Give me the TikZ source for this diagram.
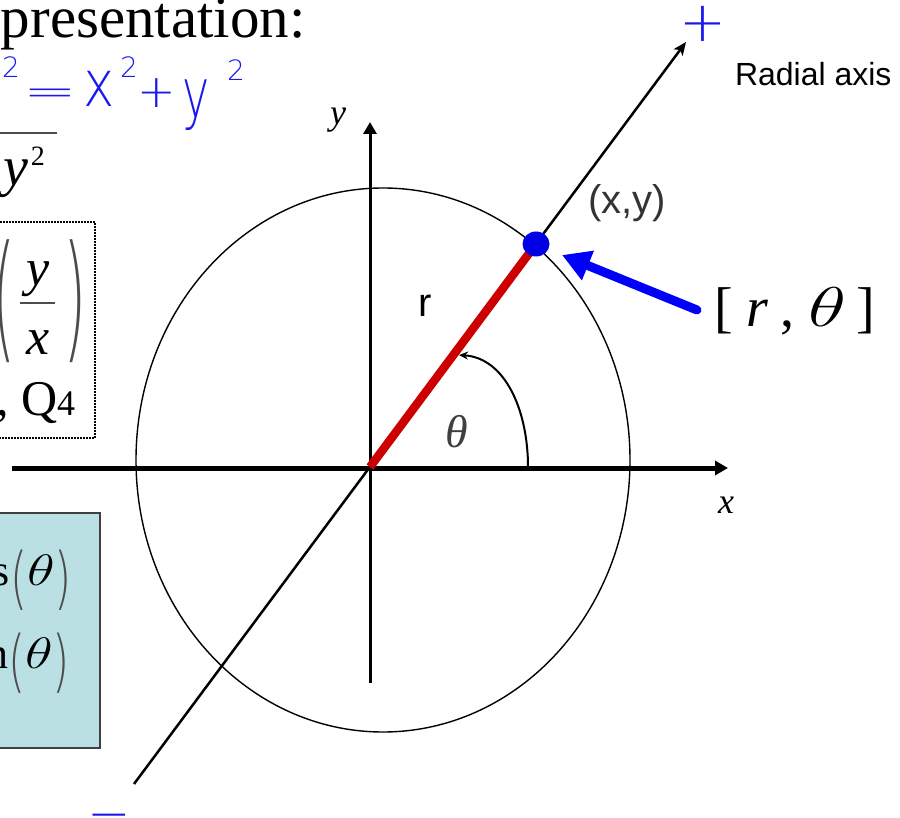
\RequirePackage{fix-cm}
\documentclass[tikz,border=0pt]{standalone}
\usepackage{graphicx}
\usepackage{fontspec}
\setmainfont{Liberation Serif}
\newfontfamily\arial{Liberation Sans}
\IfFontExistsTF{DejaVu Sans ExtraLight}{\newfontfamily\handfont{DejaVu Sans ExtraLight}}{\newfontfamily\handfont{Liberation Sans}}
\usetikzlibrary{arrows.meta,shapes.geometric}
\definecolor{boxcyan}{RGB}{186,224,228}
\definecolor{penblue}{RGB}{25,25,235}
\definecolor{dotblue}{RGB}{0,0,230}
\definecolor{arrowblue}{RGB}{0,0,250}
\definecolor{rred}{RGB}{204,0,0}
\newcommand\fs[1]{\fontsize{#1}{#1}\selectfont}
\newcommand\wth[1]{\scalebox{#1}[1]{$\theta$}}
% thin stretched parenthesis: #1 char, #2 y-scale, #3 raise
\newcommand\tpar[3]{\raisebox{#3}{\scalebox{1}[#2]{\handfont\color{black!70}#1}}}
\begin{document}
\begin{tikzpicture}[x=1pt,y=-1pt,
  txt/.style={inner sep=0pt, outer sep=0pt},
  hand/.style={txt, text=penblue, anchor=base},
  gline/.style={line width=2.2pt, draw=black!70},
  dotbox/.style={line width=1.5pt, dash pattern=on 1.5pt off 1.5pt},
  cyanbox/.style={fill=boxcyan, draw=black!75, line width=2pt},
 ]
\useasboundingbox (0,0) rectangle (900,818);
\clip (0,0) rectangle (900,818);

% ---------- left fragments ----------
\node[txt, anchor=base west, font=\fs{59}] (title) at (1,38) {presentation:};

\coordinate (sqA) at (-2,133); \coordinate (sqB) at (57,133);
\draw[gline] (sqA) -- (sqB);
\node[txt, anchor=base west, font=\fs{56}] (ysq) at (4,186) {\itshape y\hspace{2pt}\raisebox{20pt}{\fs{28}\upshape 2}};

\coordinate (dbA) at (-10,222); \coordinate (dbB) at (95,438);
\draw[dotbox] (dbA) rectangle (dbB);
\node[txt, anchor=base west, font=\fs{60}] (lpA) at (-8,345) {\tpar{(}{2.3}{0pt}};
\node[txt, anchor=base, font=\fs{52}\itshape] (fy) at (38,286) {y};
\coordinate (fbA) at (20,303); \coordinate (fbB) at (55,303);
\draw[gline, line width=2pt] (fbA) -- (fbB);
\node[txt, anchor=base, font=\fs{52}\itshape] (fx) at (38,355) {x};
\node[txt, anchor=base west, font=\fs{60}] (rpA) at (63,345) {\tpar{)}{2.3}{0pt}};
\node[txt, anchor=base west, font=\fs{50}] (q4) at (-4,415) {, Q{\fs{36}4}};

\coordinate (cbA) at (-10,513); \coordinate (cbB) at (100,748);
\draw[cyanbox] (cbA) rectangle (cbB);
\node[txt, anchor=base east, font=\fs{44}] (cosl) at (72,585)
  {s\tpar{(}{1.54}{-16pt}\wth{1.3}\tpar{)}{1.54}{-16pt}};
\node[txt, anchor=base east, font=\fs{44}] (sinl) at (70,668)
  {n\tpar{(}{1.54}{-16pt}\wth{1.3}\tpar{)}{1.54}{-16pt}};

% ---------- handwriting ----------
\node[hand, font=\handfont\fs{28}] (h1) at (11,78) {2};
\node[hand, font=\handfont\fs{40}] (h2) at (50,106) {\scalebox{1.6}[1]{=}};
\node[hand, font=\handfont\fs{46}] (h3) at (99,107) {\scalebox{1.15}[1.4]{x}};
\node[hand, font=\handfont\fs{28}] (h4) at (129,78) {2};
\node[hand, font=\handfont\fs{46}] (h5) at (157,108) {+};
\node[hand, font=\handfont\fs{46}] (h6) at (196,118) {\scalebox{1}[1.5]{y}};
\node[hand, font=\handfont\fs{28}] (h7) at (236,81) {2};
\node[hand, font=\handfont\fs{56}, anchor=center] (hplus) at (703,24) {+};
\node[hand, font=\handfont\fs{52}] (hminus) at (109,831) {−};

% ---------- axes ----------
\coordinate (O) at (370,467);
\coordinate (C) at (383,460);
\draw[line width=1.4pt] (C) ellipse [x radius=247pt, y radius=272pt];

\coordinate (xl) at (12,468); \coordinate (xr) at (728,468);
\draw[line width=5pt, -{Triangle[length=13pt,width=14pt]}] (xl) -- (xr);
\coordinate (yb) at (370,683); \coordinate (yt) at (370,122);
\draw[line width=3pt, -{Triangle[length=12pt,width=13pt]}] (yb) -- (yt);

\coordinate (rl1) at (134,784); \coordinate (rl2) at (686,42);
\draw[line width=2.5pt, -{Stealth[length=13pt,width=11pt,inset=3pt]}] (rl1) -- (rl2);

\coordinate (P) at (536,244);
\draw[rred, line width=8.5pt] (O) -- (P);
\node[ellipse, fill=dotblue, minimum width=27pt, minimum height=25pt, inner sep=0pt] (dot) at (P) {};

\coordinate (bt) at (697,310); \coordinate (bh) at (562,255);
\draw[arrowblue, line width=9pt, line cap=round, -{Triangle[length=28pt,width=30pt]}] (bt) -- (bh);

\coordinate (a1) at (528,467); \coordinate (a2) at (459,355);
\draw[line width=2pt, -{Stealth[length=9pt,width=8pt]}] (a1) .. controls (528,410) and (505,358) .. (a2);

% ---------- labels ----------
\node[txt, anchor=base, font=\fs{36}\itshape] (ylab) at (338,125) {y};
\node[txt, anchor=base, font=\fs{36}\itshape] (xlab) at (726,513) {x};
\node[txt, anchor=base, font=\fs{46}\itshape, text=black!75] (thlab) at (457,447) {θ};
\node[txt, anchor=base, font=\arial\fs{40}] (rlab) at (425,317) {r};
\node[txt, anchor=base, font=\arial\fs{40}, text=black!80] (xylab) at (627,214) {(x,y)};
\node[txt, anchor=base west, font=\arial\fs{32}] (radlab) at (735,86) {Radial axis};
\node[txt, anchor=base west, font=\fs{56}] (polar) at (714,327)
  {[\hspace{14pt}{\itshape r}\hspace{12pt},\hspace{14pt}\wth{1.4}\hspace{10pt}]};
\end{tikzpicture}
\end{document}
